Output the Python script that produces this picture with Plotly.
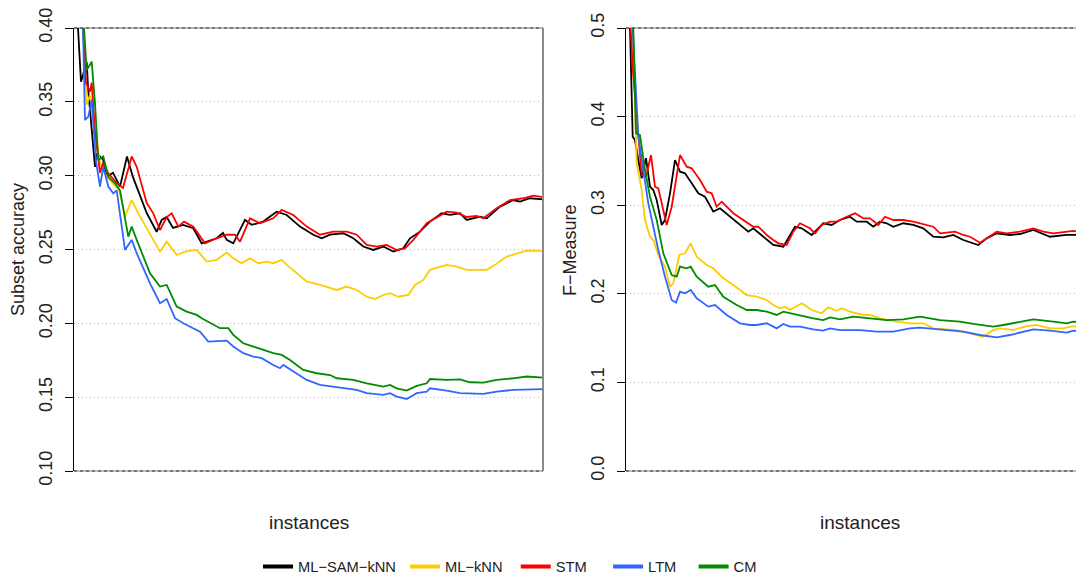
import plotly.graph_objects as go

# ---------------- data ----------------
# Left panel: Subset accuracy
L_sam_x = [0, 80, 140, 254, 280, 420, 454, 580, 654, 780, 920, 1060, 1180, 1454, 1654, 1754, 1854, 1980, 2180, 2386, 2554, 2854, 2980, 3054, 3186, 3420, 3554, 3786, 3920, 4054, 4254, 4520, 4786, 4954, 5120, 5386, 5586, 5786, 5986, 6186, 6386, 6586, 6720, 6920, 7120, 7354, 7520, 7720, 7854, 8120, 8254, 8520, 8786, 8920, 9120, 9380]
L_sam_y = [0.50, 0.40, 0.3636, 0.377, 0.360, 0.306, 0.315, 0.311, 0.2993, 0.302, 0.2926, 0.313, 0.299, 0.2747, 0.262, 0.270, 0.272, 0.2646, 0.2667, 0.2644, 0.2542, 0.2576, 0.2612, 0.2565, 0.2542, 0.270, 0.2667, 0.2689, 0.2723, 0.2756, 0.2734, 0.2655, 0.260, 0.2576, 0.260, 0.261, 0.2576, 0.252, 0.2497, 0.252, 0.2486, 0.2508, 0.2576, 0.2621, 0.2689, 0.2745, 0.2734, 0.2745, 0.270, 0.2723, 0.2711, 0.279, 0.2835, 0.2824, 0.2847, 0.284]

L_stm_x = [0, 180, 240, 320, 354, 420, 520, 580, 680, 854, 980, 1154, 1254, 1454, 1586, 1720, 1854, 1954, 2086, 2200, 2386, 2620, 2854, 3054, 3220, 3320, 3520, 3720, 3986, 4154, 4386, 4654, 4920, 5186, 5454, 5654, 5854, 6054, 6254, 6454, 6620, 6786, 7054, 7454, 7654, 7854, 8054, 8186, 8454, 8720, 8986, 9186, 9380]
L_stm_y = [0.55, 0.40, 0.3628, 0.357, 0.363, 0.33, 0.302, 0.3086, 0.302, 0.295, 0.2917, 0.313, 0.306, 0.2815, 0.2745, 0.2632, 0.272, 0.2745, 0.2655, 0.2689, 0.2655, 0.2542, 0.2576, 0.260, 0.260, 0.2553, 0.2711, 0.2678, 0.2711, 0.2768, 0.2734, 0.2655, 0.260, 0.2621, 0.2621, 0.260, 0.2531, 0.252, 0.2531, 0.2497, 0.2508, 0.2565, 0.2678, 0.2756, 0.275, 0.272, 0.2727, 0.2711, 0.278, 0.2835, 0.2847, 0.2865, 0.2854]

L_knn_x = [0, 180, 254, 320, 420, 520, 654, 786, 906, 1020, 1154, 1286, 1520, 1720, 1854, 2054, 2220, 2454, 2654, 2854, 3054, 3186, 3354, 3520, 3686, 3854, 3986, 4154, 4254, 4454, 4654, 4920, 5254, 5454, 5654, 5854, 6020, 6186, 6320, 6486, 6686, 6820, 6986, 7120, 7454, 7654, 7854, 8254, 8420, 8654, 8854, 9054, 9380]
L_knn_y = [0.60, 0.40, 0.348, 0.3546, 0.33, 0.3086, 0.2993, 0.2948, 0.290, 0.2723, 0.2835, 0.2745, 0.261, 0.2486, 0.2553, 0.2463, 0.2486, 0.2497, 0.2418, 0.243, 0.248, 0.244, 0.2407, 0.244, 0.2407, 0.2418, 0.2407, 0.243, 0.2396, 0.234, 0.2283, 0.226, 0.2226, 0.2249, 0.2226, 0.218, 0.2165, 0.2192, 0.2204, 0.218, 0.2192, 0.226, 0.2294, 0.2362, 0.2396, 0.2384, 0.2362, 0.2362, 0.2396, 0.2452, 0.2475, 0.2493, 0.2491]

L_cm_x = [0, 200, 254, 354, 420, 486, 586, 686, 820, 920, 1086, 1154, 1254, 1520, 1720, 1854, 2054, 2254, 2454, 2554, 2920, 3086, 3186, 3386, 3586, 3786, 3986, 4154, 4320, 4586, 4854, 5120, 5254, 5586, 5854, 6186, 6320, 6454, 6654, 6854, 7054, 7120, 7454, 7720, 7920, 8186, 8454, 8786, 9054, 9380]
L_cm_y = [0.60, 0.40, 0.3716, 0.3772, 0.349, 0.3106, 0.313, 0.2993, 0.2948, 0.290, 0.2587, 0.2655, 0.2565, 0.2339, 0.2249, 0.226, 0.2113, 0.2079, 0.2057, 0.2035, 0.1967, 0.1967, 0.1922, 0.1865, 0.1843, 0.182, 0.1798, 0.1786, 0.1752, 0.1685, 0.1662, 0.165, 0.1628, 0.1617, 0.1594, 0.1572, 0.1583, 0.156, 0.1545, 0.1576, 0.1594, 0.1623, 0.1617, 0.1621, 0.1601, 0.1599, 0.1617, 0.1628, 0.164, 0.1633]

L_ltm_x = [0, 180, 220, 286, 354, 440, 520, 586, 686, 786, 854, 1020, 1154, 1254, 1520, 1720, 1854, 2020, 2186, 2520, 2686, 3054, 3186, 3386, 3586, 3754, 3986, 4120, 4186, 4386, 4654, 4920, 5186, 5454, 5654, 5854, 6186, 6320, 6454, 6654, 6854, 7054, 7120, 7454, 7720, 8186, 8454, 8786, 9380]
L_ltm_y = [0.60, 0.40, 0.3377, 0.340, 0.3513, 0.31, 0.2926, 0.306, 0.2926, 0.288, 0.290, 0.2497, 0.2565, 0.2475, 0.2271, 0.2136, 0.2165, 0.2035, 0.200, 0.1944, 0.1876, 0.1883, 0.1843, 0.1798, 0.1775, 0.1764, 0.1718, 0.1696, 0.1718, 0.1673, 0.1617, 0.1583, 0.1572, 0.156, 0.1549, 0.1527, 0.1515, 0.1527, 0.1504, 0.1488, 0.1527, 0.1538, 0.156, 0.1545, 0.1527, 0.1522, 0.1538, 0.1549, 0.1554]

# Right panel: F-Measure
R_sam_x = [0, 80, 134, 180, 246, 314, 400, 480, 546, 614, 714, 780, 880, 980, 1080, 1180, 1314, 1446, 1580, 1746, 1880, 2080, 2280, 2446, 2546, 2746, 2946, 3146, 3246, 3380, 3514, 3714, 3814, 3946, 4114, 4280, 4480, 4614, 4814, 4946, 5080, 5214, 5346, 5546, 5746, 5946, 6146, 6346, 6546, 6746, 7046, 7214, 7414, 7680, 7880, 8146, 8480, 8814, 9160]
R_sam_y = [0.60, 0.50, 0.3773, 0.3736, 0.351, 0.3304, 0.353, 0.3209, 0.3171, 0.3059, 0.2777, 0.2833, 0.3134, 0.351, 0.3378, 0.336, 0.3247, 0.3134, 0.3096, 0.2927, 0.2965, 0.287, 0.2777, 0.2701, 0.2739, 0.2644, 0.2551, 0.2532, 0.2626, 0.2757, 0.2739, 0.2664, 0.272, 0.2796, 0.2777, 0.2833, 0.287, 0.2814, 0.2814, 0.2757, 0.2814, 0.2796, 0.2757, 0.2796, 0.2777, 0.2739, 0.2644, 0.2637, 0.2664, 0.2607, 0.2551, 0.2626, 0.2683, 0.2664, 0.2675, 0.272, 0.2644, 0.2664, 0.2664]

R_stm_x = [0, 140, 246, 314, 400, 500, 580, 646, 814, 914, 1080, 1214, 1314, 1480, 1614, 1714, 1814, 1914, 2146, 2346, 2546, 2646, 2814, 2946, 3046, 3214, 3346, 3480, 3680, 3780, 3914, 4080, 4214, 4414, 4580, 4746, 4880, 5046, 5180, 5346, 5546, 5746, 6014, 6146, 6280, 6480, 6580, 6746, 6880, 7080, 7214, 7414, 7614, 7880, 8146, 8346, 8546, 8680, 8946, 9160]
R_stm_y = [0.60, 0.45, 0.3792, 0.3341, 0.3322, 0.3566, 0.3209, 0.319, 0.2777, 0.2983, 0.3566, 0.3435, 0.3416, 0.3284, 0.3153, 0.3134, 0.2983, 0.304, 0.2909, 0.2833, 0.2757, 0.2757, 0.2664, 0.2607, 0.257, 0.2551, 0.2701, 0.2796, 0.2739, 0.2683, 0.2777, 0.2814, 0.2814, 0.287, 0.2908, 0.2852, 0.2852, 0.2777, 0.287, 0.2833, 0.2833, 0.2814, 0.2777, 0.2757, 0.2683, 0.269, 0.2701, 0.2664, 0.2644, 0.2577, 0.2626, 0.2701, 0.2683, 0.2701, 0.2739, 0.2701, 0.2683, 0.269, 0.2709, 0.269]

R_knn_x = [0, 134, 214, 314, 380, 480, 546, 646, 780, 880, 946, 1066, 1180, 1294, 1414, 1614, 1746, 1946, 2146, 2414, 2614, 2814, 2946, 3080, 3180, 3280, 3514, 3714, 3914, 4046, 4214, 4314, 4480, 4746, 4880, 5080, 5414, 5680, 5946, 6146, 6614, 6880, 7146, 7346, 7480, 7746, 8014, 8214, 8480, 8746, 8946, 9160]
R_knn_y = [0.70, 0.50, 0.3473, 0.3171, 0.2833, 0.2644, 0.2607, 0.2438, 0.2306, 0.208, 0.2118, 0.2438, 0.2457, 0.257, 0.2419, 0.2325, 0.2288, 0.2175, 0.2099, 0.1986, 0.1967, 0.193, 0.1873, 0.1836, 0.1855, 0.1817, 0.1893, 0.1817, 0.178, 0.1847, 0.1809, 0.1836, 0.1798, 0.1761, 0.1761, 0.1723, 0.1685, 0.1667, 0.1667, 0.161, 0.1591, 0.1554, 0.1516, 0.1591, 0.161, 0.1591, 0.1636, 0.1648, 0.161, 0.161, 0.1636, 0.161]

R_cm_x = [0, 146, 200, 280, 380, 480, 614, 746, 914, 1014, 1080, 1214, 1294, 1414, 1646, 1780, 1946, 2214, 2414, 2614, 2814, 3014, 3146, 3280, 3480, 3746, 3946, 4080, 4280, 4546, 4880, 5214, 5546, 5880, 6280, 6680, 6946, 7214, 7346, 7546, 7814, 8146, 8546, 8814, 8946, 9160]
R_cm_y = [0.70, 0.50, 0.3811, 0.3792, 0.3397, 0.3096, 0.2833, 0.2457, 0.2212, 0.2193, 0.2306, 0.2288, 0.2306, 0.2193, 0.208, 0.2099, 0.1967, 0.1873, 0.1817, 0.1817, 0.1798, 0.1761, 0.1798, 0.178, 0.1761, 0.1723, 0.1704, 0.1734, 0.1712, 0.1742, 0.1723, 0.1704, 0.1712, 0.1742, 0.1704, 0.1685, 0.166, 0.164, 0.1629, 0.1648, 0.1674, 0.1712, 0.1685, 0.1667, 0.1685, 0.1674]

R_ltm_x = [0, 134, 246, 346, 446, 546, 646, 780, 914, 1000, 1080, 1180, 1294, 1414, 1646, 1780, 2014, 2280, 2480, 2614, 2814, 3014, 3146, 3280, 3480, 3746, 3946, 4080, 4280, 4680, 5014, 5346, 5680, 5880, 6280, 6746, 7080, 7414, 7680, 7946, 8146, 8480, 8814, 8946, 9160]
R_ltm_y = [0.70, 0.50, 0.3773, 0.3397, 0.3021, 0.2757, 0.2495, 0.2193, 0.193, 0.19, 0.2024, 0.2005, 0.2043, 0.1949, 0.1855, 0.1873, 0.1761, 0.1667, 0.1648, 0.1648, 0.1667, 0.161, 0.166, 0.1629, 0.1629, 0.1599, 0.1584, 0.161, 0.1591, 0.1591, 0.1572, 0.1572, 0.161, 0.1618, 0.1599, 0.1572, 0.1535, 0.1508, 0.1535, 0.1572, 0.1599, 0.1584, 0.1561, 0.1584, 0.1572]

methods = ["ML−SAM−kNN", "ML−kNN", "STM", "LTM", "CM"]
colors = ["#000000", "#FFCC00", "#FF0000", "#3366FF", "#008B00"]

left_ticks = [0.10, 0.15, 0.20, 0.25, 0.30, 0.35, 0.40]
left_ticklabels = ["0.10", "0.15", "0.20", "0.25", "0.30", "0.35", "0.40"]
right_ticks = [0.0, 0.1, 0.2, 0.3, 0.4, 0.5]
right_ticklabels = ["0.0", "0.1", "0.2", "0.3", "0.4", "0.5"]

left_series = [(L_sam_x, L_sam_y), (L_knn_x, L_knn_y), (L_stm_x, L_stm_y), (L_ltm_x, L_ltm_y), (L_cm_x, L_cm_y)]
right_series = [(R_sam_x, R_sam_y), (R_knn_x, R_knn_y), (R_stm_x, R_stm_y), (R_ltm_x, R_ltm_y), (R_cm_x, R_cm_y)]

# ---------------- figure ----------------
# the page adds an 8px body margin, so the figure is 8px smaller and all
# layout positions below are page positions minus 8
OFF = 8
W, H = 1084 - OFF, 577 - OFF
FONT = "Liberation Sans, Arial, Helvetica, sans-serif"
NB = "\u00a0"
legend_pad = [1, 2, 4, 3, 0]   # extra spacing after legend labels


def px(x):
    return (x - OFF) / W


def py(y):
    return 1 - (y - OFF) / H


fig = go.Figure()
for (xs, ys), name, col in zip(left_series, methods, colors):
    fig.add_trace(go.Scatter(x=xs, y=ys, mode="lines", name=name, showlegend=False,
                             line=dict(color=col, width=1.8), xaxis="x", yaxis="y"))
for (xs, ys), name, col in zip(right_series, methods, colors):
    fig.add_trace(go.Scatter(x=xs, y=ys, mode="lines", name=name, showlegend=False,
                             line=dict(color=col, width=1.8), xaxis="x2", yaxis="y2"))
# legend entries (thicker sample lines)
for name, col, p in zip(methods, colors, legend_pad):
    fig.add_trace(go.Scatter(x=[None], y=[None], mode="lines", name=name + NB * p, showlegend=True,
                             line=dict(color=col, width=4), xaxis="x", yaxis="y"))

ydom = [py(471), py(28)]

yax_common = dict(
    showgrid=True, gridcolor="#b8b8b8", griddash="1px,3px", gridwidth=1,
    zeroline=False, showline=True, linecolor="black", linewidth=1,
    ticks="outside", ticklen=8, tickcolor="black", tickwidth=1,
    tickangle=-90, tickfont=dict(family=FONT, size=18, color="#222"),
    ticklabelstandoff=6, ticklabeloverflow="allow", domain=ydom, automargin=False,
)
fig.update_layout(
    width=W, height=H, margin=dict(l=0, r=0, t=0, b=0, pad=0, autoexpand=False),
    paper_bgcolor="white", plot_bgcolor="white",
    font=dict(family=FONT, color="#222"),
    xaxis=dict(domain=[px(74), px(543)], range=[0, 9380], showticklabels=False,
               showgrid=False, zeroline=False, showline=False, ticks="", automargin=False),
    xaxis2=dict(domain=[px(626), 1.0], range=[0, 9160], showticklabels=False,
                showgrid=False, zeroline=False, showline=False, ticks="", automargin=False),
    yaxis=dict(range=[0.10, 0.40], tickvals=left_ticks, ticktext=left_ticklabels, anchor="x", **yax_common),
    yaxis2=dict(range=[0.0, 0.5], tickvals=right_ticks, ticktext=right_ticklabels, anchor="x2", **yax_common),
    legend=dict(orientation="h", x=px(510), xanchor="center", y=py(567), yanchor="middle",
                font=dict(family=FONT, size=14.7, color="#222"), bgcolor="rgba(0,0,0,0)",
                itemwidth=30),
    showlegend=True,
)

shapes = []
for xd, yd in [("x domain", "y domain"), ("x2 domain", "y2 domain")]:
    for yy in [0, 1]:
        shapes.append(dict(type="line", xref=xd, yref=yd, x0=0, x1=1, y0=yy, y1=yy,
                           line=dict(color="#bdbdbd", width=2), layer="below"))
        shapes.append(dict(type="line", xref=xd, yref=yd, x0=0, x1=1, y0=yy, y1=yy,
                           line=dict(color="#333333", width=1, dash="dot"), layer="above"))
shapes.append(dict(type="line", xref="x domain", yref="y domain", x0=1, x1=1, y0=0, y1=1,
                   line=dict(color="#8a8a8a", width=2)))
fig.update_layout(shapes=shapes)

ann = [
    dict(text="Subset accuracy", x=px(18), y=py(250), textangle=-90, font=dict(size=18)),
    dict(text="F−Measure", x=px(570), y=py(250), textangle=-90, font=dict(size=18)),
    dict(text="instances", x=px(308.5), y=py(522), font=dict(size=19)),
    dict(text="instances", x=px(860), y=py(522), font=dict(size=19)),
]
for a in ann:
    a.update(xref="paper", yref="paper", showarrow=False, xanchor="center", yanchor="middle")
    a["font"].update(family=FONT, color="#222")
fig.update_layout(annotations=ann)

fig.write_html("out.html")
